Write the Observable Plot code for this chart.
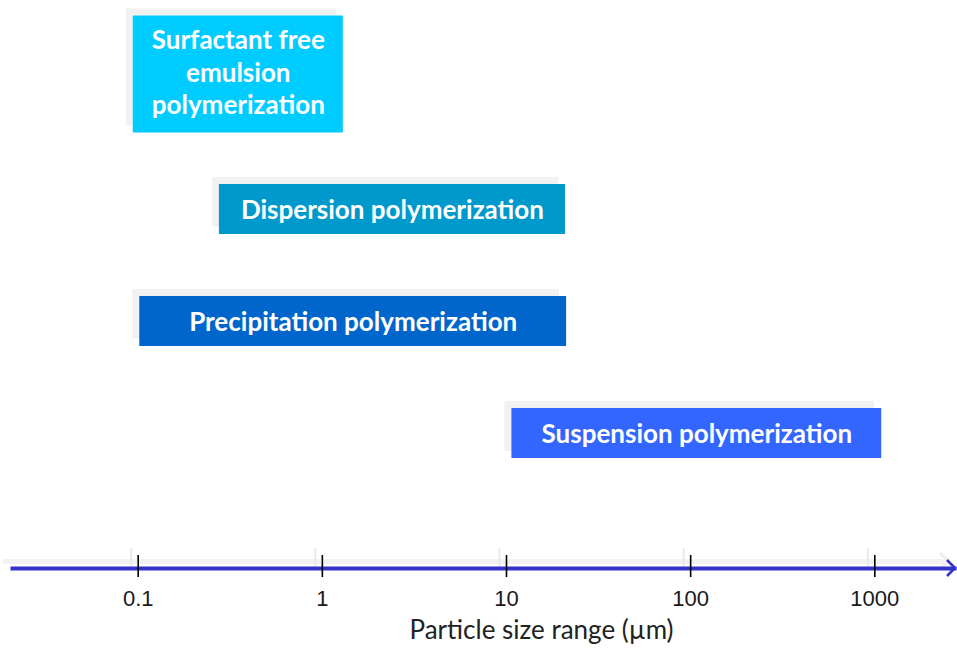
<!DOCTYPE html>
<html><head><meta charset="utf-8">
<script src="https://cdn.jsdelivr.net/npm/d3@7"></script>
<script src="https://cdn.jsdelivr.net/npm/@observablehq/plot@0.6"></script>
<style>body{margin:0;background:#fff;overflow:hidden} svg{display:block}</style>
</head><body><div id="chart"></div>
<script>
// ---- data ----
const methods = [
  "Surfactant free emulsion polymerization",
  "Dispersion polymerization",
  "Precipitation polymerization",
  "Suspension polymerization"
];
const boxLabels = [
  "Surfactant free\nemulsion\npolymerization",
  "Dispersion polymerization",
  "Precipitation polymerization",
  "Suspension polymerization"
];
const sizeMin = [0.094, 0.276, 0.102, 10.7];   // µm
const sizeMax = [1.30, 20.9, 21.2, 1090];      // µm
const boxColors = ["#00CCFF", "#0099CC", "#0066CC", "#3366FF"];
const tickValues = [0.1, 1, 10, 100, 1000];
const tickLabels = ["0.1", "1", "10", "100", "1000"];
const axisTitle = "Particle size range (µm)";

const rows = methods.map((m, i) => ({method: m, label: boxLabels[i], min: sizeMin[i], max: sizeMax[i], color: boxColors[i]}));
const first = rows.slice(0, 1);
const rest = rows.slice(1);

const W = 957, H = 649, ML = 12, MR = 3, MB = 81;
const axisBlue = "#3333CC";
const shadow = "#F2F2F2";
const boxFont = "Lato, 'Open Sans', sans-serif";
const tickFont = "Liberation Sans, Arial, sans-serif";

const chart = Plot.plot({
  width: W, height: H,
  marginLeft: ML, marginRight: MR, marginTop: 0, marginBottom: MB,
  style: {background: "#fff", overflow: "visible", fontFamily: tickFont},
  x: {type: "log", domain: [0.1, 1000], range: [137.7, 874.3], axis: null},
  y: {type: "band", domain: methods, range: [40.5, 488.5], padding: 0, axis: null},
  color: {type: "identity"},
  marks: [
    // axis shadow
    Plot.frame({anchor: "bottom", stroke: shadow, strokeWidth: 5, dx: -7, dy: -7}),
    Plot.axisX({ticks: tickValues, tickSize: 22, tickFormat: () => "", stroke: "#EAEAEA", strokeWidth: 2, dx: -7, dy: -20}),
    // box shadows
    Plot.barX(first, {x1: "min", x2: "max", y: "method", fill: shadow, dx: -7, dy: -7, insetTop: -25.5, insetBottom: 20.5}),
    Plot.barX(rest, {x1: "min", x2: "max", y: "method", fill: shadow, dx: -7, dy: -7, insetTop: 31, insetBottom: 31}),
    // boxes
    Plot.barX(first, {x1: "min", x2: "max", y: "method", fill: "color", insetTop: -25.5, insetBottom: 20.5}),
    Plot.barX(rest, {x1: "min", x2: "max", y: "method", fill: "color", insetTop: 31, insetBottom: 31}),
    // labels
    Plot.text(first, {x: d => Math.sqrt(d.min * d.max), y: "method", text: "label", dy: -26, fill: "white", fontWeight: "bold", fontSize: 26, fontFamily: boxFont, lineHeight: 1.25}),
    Plot.text(rest, {x: d => Math.sqrt(d.min * d.max), y: "method", text: "label", dy: 1, fill: "white", fontWeight: "bold", fontSize: 26, fontFamily: boxFont}),
    // axis line
    Plot.frame({anchor: "bottom", stroke: axisBlue, strokeWidth: 4}),
    // ticks
    Plot.axisX({ticks: tickValues, tickSize: 22, tickFormat: () => "", stroke: "#000", strokeWidth: 1.6, dy: -13}),
    // tick labels
    Plot.axisX({ticks: tickValues, tickSize: 0, tickPadding: 22, tickFormat: d => tickLabels[tickValues.indexOf(d)], fontSize: 22, fontFamily: tickFont, fill: "#1a1a1a", label: null}),
    // axis title
    Plot.text([axisTitle], {frameAnchor: "bottom", dx: 58, dy: 70, fontSize: 26, fontFamily: boxFont, fill: "#222"})
  ]
});

// arrowhead at the end of the axis line (plus its faint shadow)
const svg = d3.select(chart);
const xe = W - MR, ye = H - MB;
svg.insert("polyline", ":first-child")
  .attr("points", `${xe - 14},${ye - 15} ${xe - 6},${ye - 7} ${xe - 14},${ye + 1}`)
  .attr("fill", "none").attr("stroke", "#EEEEEE").attr("stroke-width", 3);
svg.append("polyline")
  .attr("points", `${xe - 7},${ye - 8} ${xe + 1},${ye} ${xe - 7},${ye + 8}`)
  .attr("fill", "none").attr("stroke", axisBlue).attr("stroke-width", 2.5);

document.getElementById("chart").appendChild(chart);
</script>
</body></html>
